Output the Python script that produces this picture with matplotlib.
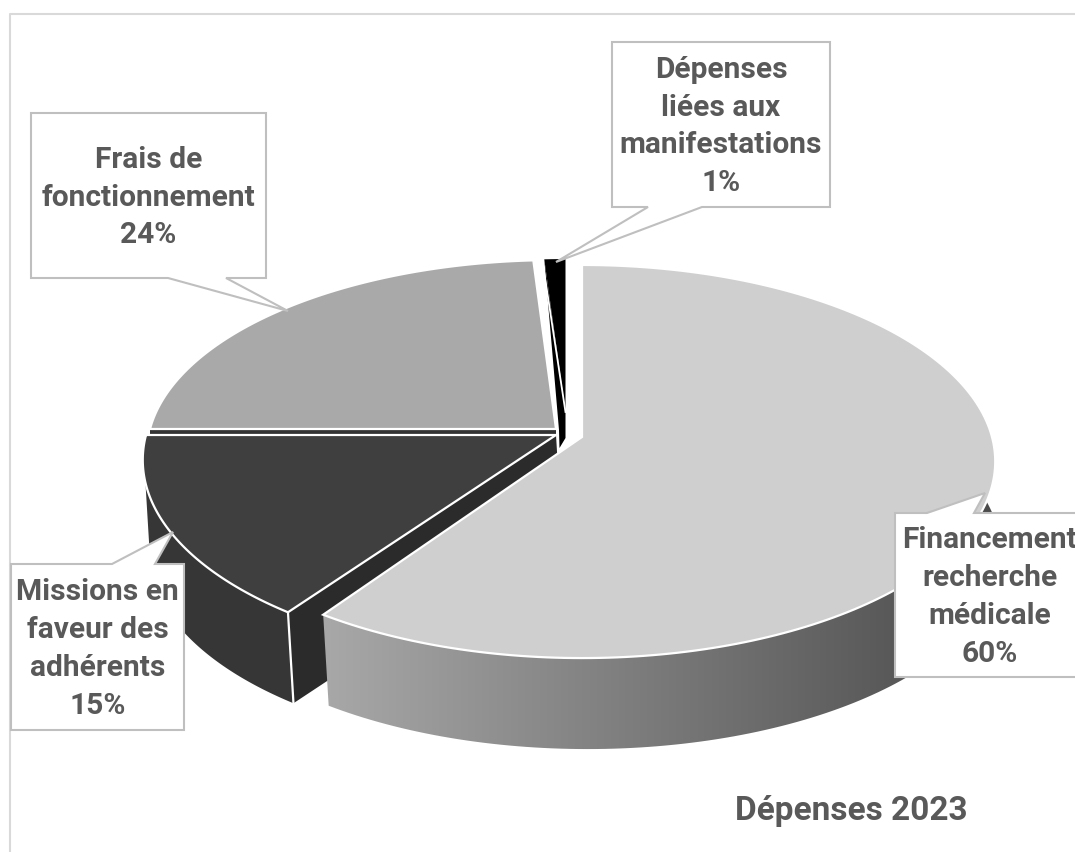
import numpy as np
import matplotlib
matplotlib.use('Agg')
import matplotlib.pyplot as plt
from matplotlib.colors import LinearSegmentedColormap
from matplotlib.patches import Polygon

# Valeurs du graphique
categories = ['Financement\nrecherche\nmédicale', 'Missions en\nfaveur des\nadhérents',
              'Frais de\nfonctionnement', 'Dépenses\nliées aux\nmanifestations']
parts = [60, 15, 24, 1]
titre = 'Dépenses 2023'

W, H = 1075, 852
GRIS_TEXTE = '#595959'
GRIS_BORD = '#bfbfbf'
TAILLE = 21.5

# perspective du disque : apex x, apex y, rayon, hauteur
K = 0.1247
geo = [(582, 437, 410, 193.5),
       (556, 435, 410, 197),
       (556, 429, 406, 190),
       (565.5, 412, 380, 172)]
couleurs = ['#cfcfcf', '#3f3f3f', '#a9a9a9', '#000000']
EP = 91  # epaisseur du disque
DX = 5.5  # decalage du dessous
ECART = np.radians(1.5)  # la tranche sortie est un peu plus courte

bornes = np.cumsum([0] + parts) / sum(parts) * 2 * np.pi


def proj(t, g):
    # angle t en sens horaire depuis le haut
    cx, cy, r, a = g
    u, v = np.sin(t), np.cos(t)
    return cx + r * u / (1 + K * v), cy - a * v / (1 + K * v)


def arc(i, n=200):
    fin = bornes[i + 1] - ECART if i == 0 else bornes[i + 1]
    t = np.linspace(bornes[i], fin, n)
    return np.column_stack(proj(t, geo[i]))


def bas(pts):
    # contour du dessous du disque
    return np.array(pts, dtype=float) + (DX, EP)


def dessus(ax, i, z, bord='white'):
    pts = np.vstack([[geo[i][:2]], arc(i)])
    ax.add_patch(Polygon(pts, closed=True, fc=couleurs[i], ec=bord, lw=1.6, zorder=z))


def bulle(ax, x0, x1, y0, y1, pointe, base, cote, texte):
    # cadre de l'etiquette avec sa fleche
    if cote == 'bas':
        pts = [(x0, y0), (x1, y0), (x1, y1), (base[1], y1), pointe, (base[0], y1), (x0, y1)]
    else:
        pts = [(x0, y0), (base[0], y0), pointe, (base[1], y0), (x1, y0), (x1, y1), (x0, y1)]
    ax.add_patch(Polygon(pts, closed=True, fc='white', ec=GRIS_BORD, lw=1.5, zorder=20))
    ax.text((x0 + x1) / 2, (y0 + y1) / 2 + 2, texte, ha='center', va='center', color=GRIS_TEXTE,
            fontsize=TAILLE, fontweight='bold', linespacing=1.44, zorder=21)


plt.rcParams['font.family'] = ['Roboto', 'DejaVu Sans']

fig = plt.figure(figsize=(W / 100, H / 100), dpi=100)
ax = fig.add_axes([0, 0, 1, 1])
ax.axis('off')

# cadre du graphique
ax.plot([10, 10, W], [H, 14, 14], color='#d9d9d9', lw=1.5, zorder=1)

# Frais : tranche coupee sombre puis dessus
fr = arc(2)
ax.add_patch(Polygon([fr[0], geo[2][:2], (geo[2][0], geo[2][1] + 7), fr[0] + (0, 7)], closed=True,
                     fc='#333333', ec='none', zorder=2))
dessus(ax, 2, 3)

# Depenses : face coupee puis dessus
dp = arc(3)
ax_, ay_ = geo[3][:2]
ax.add_patch(Polygon([dp[0], (ax_, ay_), (ax_, ay_ + 26), (ax_ - 6, ay_ + 36), (ax_ - 6.5, ay_ + 18)],
                     closed=True, fc='black', ec='none', zorder=4))
dessus(ax, 3, 5, bord='none')
ax.plot([dp[0][0] - 1, ax_], [dp[0][1] + 7, ay_], color='white', lw=1.3, zorder=6)

# Missions : face coupee, paroi, dessus
mi = arc(1)
coin = mi[0]
apex = np.array(geo[1][:2])
ax.add_patch(Polygon([coin, apex, bas([apex])[0], bas([coin])[0]], closed=True, fc='#2b2b2b', ec='none', zorder=6))
vis = mi[:150]
ax.add_patch(Polygon(np.vstack([vis, bas(vis)[::-1]]), closed=True, fc='#363636', ec='none', zorder=7))
ax.plot([coin[0], bas([coin])[0][0]], [coin[1], bas([coin])[0][1]], color='white', lw=1.6, zorder=8)
dessus(ax, 1, 9)

# Financement : paroi en degrade, dessus
fi = arc(0)
poly = Polygon(np.vstack([fi, bas(fi)[::-1]]), closed=True, fc='none', ec='none', zorder=10)
ax.add_patch(poly)
degrade = np.linspace(0, 1, 256).reshape(1, -1)
cmap = LinearSegmentedColormap.from_list('paroi', ['#a8a8a8', '#4a4a4a'])
im = ax.imshow(degrade, extent=(fi[:, 0].min(), 1000, H, 0), cmap=cmap, aspect='auto', zorder=10)
im.set_clip_path(poly)
dessus(ax, 0, 11)

ax.set_xlim(0, W)
ax.set_ylim(H, 0)

# etiquettes
bulle(ax, 895, 1085, 513, 677, (985, 493), (927, 974), 'haut', categories[0] + '\n%d%%' % parts[0])
bulle(ax, 11, 184, 564, 730, (173, 532), (112, 155), 'haut', categories[1] + '\n%d%%' % parts[1])
bulle(ax, 31, 266, 113, 278, (288, 311), (168, 226), 'bas', categories[2] + '\n%d%%' % parts[2])
bulle(ax, 612, 830, 42, 207, (556, 262), (648, 702), 'bas', categories[3] + '\n%d%%' % parts[3])

ax.text(851, 811, titre, ha='center', va='center', color=GRIS_TEXTE, fontsize=24, fontweight='bold', zorder=21)

fig.savefig('out.png', dpi=100)
